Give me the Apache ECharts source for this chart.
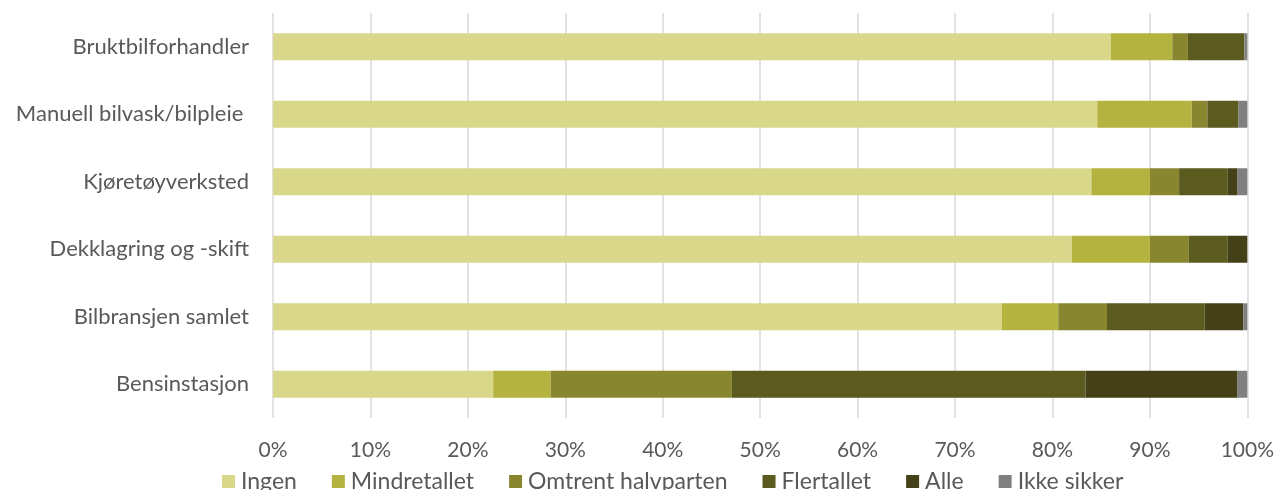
<!DOCTYPE html>
<html>
<head>
<meta charset="utf-8">
<style>
  html, body { margin: 0; padding: 0; background: #fff; }
  #chart { width: 1277px; height: 490px; }
</style>
<script src="https://cdn.jsdelivr.net/npm/echarts@6/dist/echarts.min.js"></script>
</head>
<body>
<div id="chart"></div>
<script>
// kategorier (nederst til øverst i ECharts sin rekkefølge)
var categories = ['Bensinstasjon', 'Bilbransjen samlet', 'Dekklagring og -skift', 'Kjøretøyverksted', 'Manuell bilvask/bilpleie ', 'Bruktbilforhandler']
var seriesNames = ['Ingen', 'Mindretallet', 'Omtrent halvparten', 'Flertallet', 'Alle', 'Ikke sikker']

var ingen = [22.6, 74.8, 82, 84, 84.6, 86]
var mindretallet = [5.9, 5.8, 8, 6, 9.7, 6.3]
var omtrentHalvparten = [18.6, 5.0, 4, 3, 1.6, 1.6]
var flertallet = [36.3, 10.0, 4, 5, 3.2, 5.8]
var alle = [15.6, 4.0, 2, 1, 0, 0]
var ikkeSikker = [1.0, 0.6, 0, 1, 1.0, 0.5]

var xTicks = [0, 10, 20, 30, 40, 50, 60, 70, 80, 90, 100]

var colors = ['#D9D78A', '#B5B33F', '#88872F', '#5B5A1F', '#444118', '#808080']
var values = [ingen, mindretallet, omtrentHalvparten, flertallet, alle, ikkeSikker]

var chart = echarts.init(document.getElementById('chart'))

var series = seriesNames.map(function (name, i) {
  return {
    name: name,
    type: 'bar',
    stack: 'total',
    barWidth: 27,
    data: values[i],
    itemStyle: {
      color: colors[i]
    },
    emphasis: { disabled: true }
  }
})

chart.setOption({
  animation: false,
  textStyle: {
    fontFamily: 'Lato'
  },
  grid: {
    left: 273,
    right: 28,
    top: 13,
    bottom: 72,
    containLabel: false
  },
  legend: {
    data: seriesNames,
    top: 470,
    left: 222,
    padding: 0,
    itemWidth: 13,
    itemHeight: 13,
    itemGap: 35,
    icon: 'rect',
    textStyle: {
      fontSize: 23,
      color: '#595959',
      padding: [0, 0, 0, 1]
    }
  },
  xAxis: {
    type: 'value',
    min: xTicks[0],
    max: xTicks[xTicks.length - 1],
    interval: 10,
    axisLine: { show: false },
    axisTick: { show: false },
    axisLabel: {
      fontSize: 21,
      color: '#595959',
      margin: 22,
      formatter: '{value}%'
    },
    splitLine: {
      show: true,
      lineStyle: {
        color: '#D9D9D9',
        width: 1.5
      }
    }
  },
  yAxis: {
    type: 'category',
    data: categories,
    axisLine: { show: false },
    axisTick: { show: false },
    axisLabel: {
      fontSize: 22,
      color: '#595959',
      margin: 24
    }
  },
  series: series
})
</script>
</body>
</html>
